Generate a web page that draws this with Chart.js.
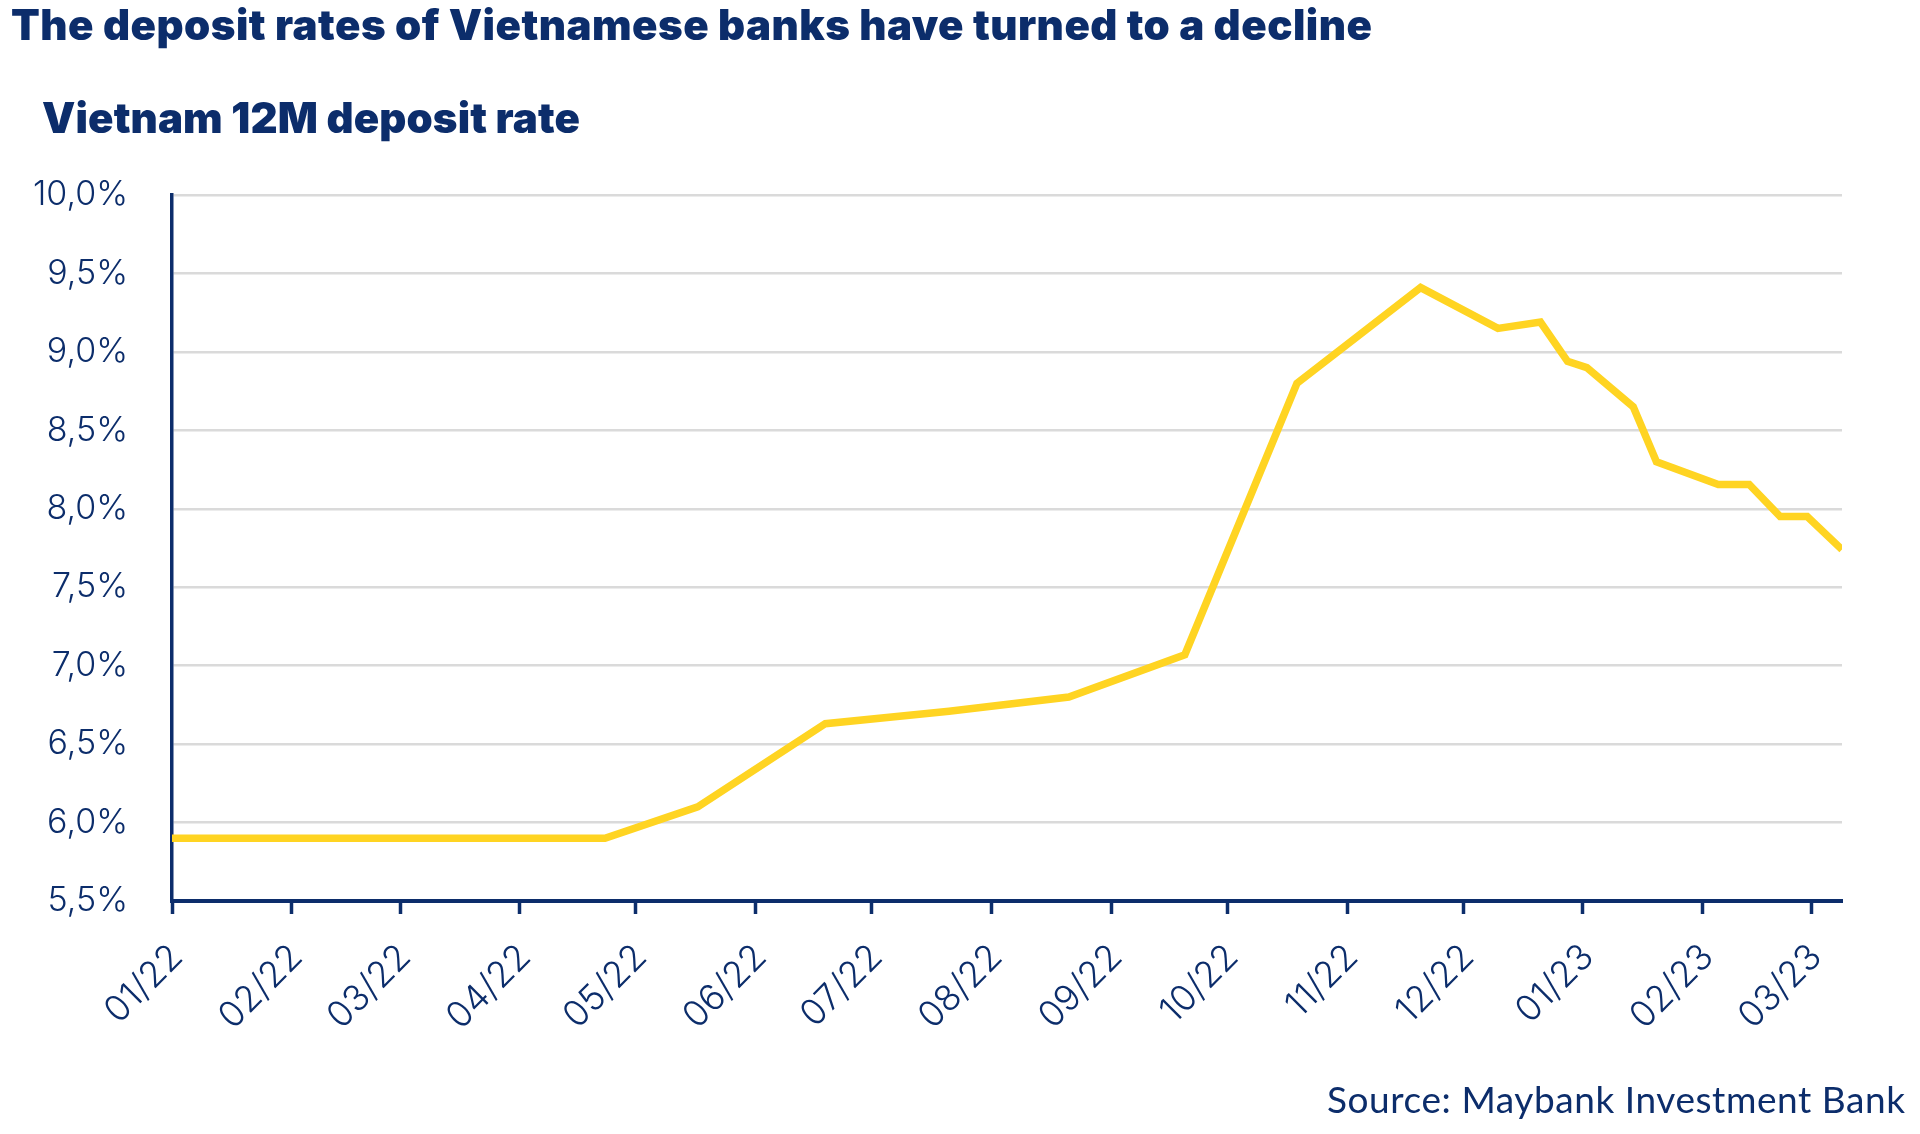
<!DOCTYPE html>
<html>
<head>
<meta charset="utf-8">
<script src="https://cdn.jsdelivr.net/npm/chart.js@4.4.0/dist/chart.umd.min.js"></script>
<style>
  body { margin: 0; background: #fff; }
  #wrap { position: relative; width: 1920px; height: 1134px; overflow: hidden; }
  #chart { position: absolute; left: 0; top: 0; }
  .txt { position: absolute; white-space: nowrap; color: #0c2d6b; line-height: normal; }
  #title { font: 900 42px Inter, sans-serif; }
  #subtitle { font: 900 42px Inter, sans-serif; }
  #source { font: 400 37px Lato, sans-serif; }
</style>
</head>
<body>
<div id="wrap">
  <canvas id="chart" width="1920" height="1134"></canvas>
  <div id="title" class="txt">The deposit rates of Vietnamese banks have turned to a decline</div>
  <div id="subtitle" class="txt">Vietnam 12M deposit rate</div>
  <div id="source" class="txt">Source: Maybank Investment Bank</div>
</div>
<script>
// data (dates of the line's vertices and rate in %)
const pointDates = [
  "2022-01-01", "2022-04-23", "2022-05-17", "2022-06-19", "2022-07-21",
  "2022-08-21", "2022-09-20", "2022-10-19", "2022-11-20", "2022-12-10",
  "2022-12-21", "2022-12-28", "2023-01-02", "2023-01-14", "2023-01-20",
  "2023-02-05", "2023-02-13", "2023-02-21", "2023-02-28", "2023-03-09"
];
const rateValues = [
  5.90, 5.90, 6.10, 6.63, 6.71,
  6.80, 7.07, 8.80, 9.41, 9.15,
  9.19, 8.94, 8.90, 8.65, 8.30,
  8.155, 8.155, 7.95, 7.95, 7.74
];
const monthTicks = [
  "2022-01-01", "2022-02-01", "2022-03-01", "2022-04-01", "2022-05-01",
  "2022-06-01", "2022-07-01", "2022-08-01", "2022-09-01", "2022-10-01",
  "2022-11-01", "2022-12-01", "2023-01-01", "2023-02-01", "2023-03-01"
];
const monthLabels = [
  "01/22", "02/22", "03/22", "04/22", "05/22", "06/22", "07/22", "08/22",
  "09/22", "10/22", "11/22", "12/22", "01/23", "02/23", "03/23"
];
const yTicks = [5.5, 6.0, 6.5, 7.0, 7.5, 8.0, 8.5, 9.0, 9.5, 10.0];
const axisEnd = "2023-03-09";

const NAVY = "#0c2d6b";
const START = Date.UTC(2022, 0, 1);
const dayOf = s => (Date.parse(s) - START) / 86400000;

// place html text at a baseline and stretch it to the width in the picture
function placeText(id, left, baseline, width) {
  const el = document.getElementById(id);
  const cs = getComputedStyle(el);
  const c = document.createElement("canvas").getContext("2d");
  c.font = `${cs.fontWeight} ${cs.fontSize} ${cs.fontFamily}`;
  const m = c.measureText(el.textContent);
  const n = el.textContent.length;
  el.style.letterSpacing = ((width - m.width) / (n - 1)) + "px";
  el.style.left = left + "px";
  el.style.top = (baseline - m.fontBoundingBoxAscent) + "px";
}
placeText("title", 11, 40, 1361);
placeText("subtitle", 42, 133, 538);
placeText("source", 1327, 1113, 578);

new Chart(document.getElementById("chart"), {
  type: "line",
  data: {
    datasets: [{
      data: pointDates.map((d, i) => ({ x: dayOf(d), y: rateValues[i] })),
      borderColor: "#ffd422",
      borderWidth: 7.5,
      borderJoinStyle: "miter",
      pointRadius: 0,
      tension: 0,
      fill: false
    }]
  },
  options: {
    responsive: false,
    animation: false,
    devicePixelRatio: 1,
    layout: { padding: { top: 195, right: 78, bottom: 0, left: 0 } },
    plugins: { legend: { display: false }, tooltip: { enabled: false } },
    scales: {
      x: {
        type: "linear",
        min: 0,
        max: dayOf(axisEnd),
        afterBuildTicks: s => { s.ticks = monthTicks.map(d => ({ value: dayOf(d) })); },
        afterFit: s => { s.height = 1134 - 901; },
        ticks: {
          autoSkip: false,
          maxRotation: 45,
          minRotation: 45,
          padding: 22,
          labelOffset: 5,
          color: NAVY,
          font: { family: "Inter", size: 36, weight: 300 },
          callback: (v, i) => monthLabels[i]
        },
        grid: { drawOnChartArea: false, tickLength: 13, tickWidth: 3.5, tickColor: NAVY },
        border: { display: true, color: NAVY, width: 4 }
      },
      y: {
        min: 5.5,
        max: 10,
        afterBuildTicks: s => { s.ticks = yTicks.map(v => ({ value: v })); },
        afterFit: s => { s.width = 172; },
        ticks: {
          padding: 44,
          color: NAVY,
          font: { family: "Inter", size: 34, weight: 300 },
          callback: v => v.toFixed(1).replace(".", ",") + "%"
        },
        grid: {
          drawTicks: false,
          lineWidth: 2.5,
          color: c => c.tick && c.tick.value === 5.5 ? "rgba(0,0,0,0)" : "#dadada"
        },
        border: { display: true, color: NAVY, width: 3.5 }
      }
    }
  }
});
</script>
</body>
</html>
